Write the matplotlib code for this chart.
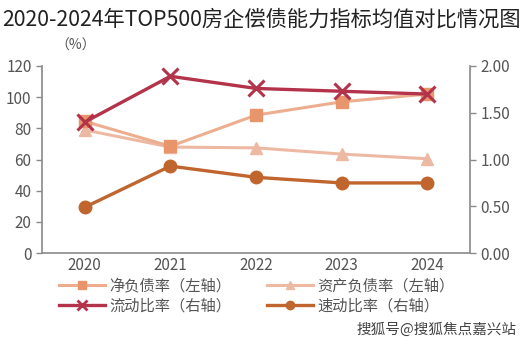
import matplotlib
matplotlib.use("Agg")
import matplotlib.pyplot as plt
from matplotlib.lines import Line2D

plt.rcParams['font.family'] = ['Noto Sans CJK SC', 'DejaVu Sans']

years = [2020, 2021, 2022, 2023, 2024]
net_debt = [84.5, 68.5, 88.5, 97, 102]
asset_liab = [79, 68, 67.5, 63.5, 60.5]
current_ratio = [1.40, 1.89, 1.76, 1.73, 1.70]
quick_ratio = [0.49, 0.93, 0.81, 0.75, 0.75]

c_net = '#E8956B'
c_net_line = '#ECAE8E'
c_asset = '#EDB9A3'
c_cur = '#B3334B'
c_quick = '#C0652D'
grey = '#8a8a8a'
tick_c = '#555555'

fig = plt.figure(figsize=(5.24, 3.54), dpi=100)
ax = fig.add_axes([0.080, 0.285, 0.817, 0.5286])
ax2 = ax.twinx()

l1, = ax.plot(years, net_debt, color=c_net_line, lw=2.2, marker='s', ms=9,
              mfc=c_net, mec=c_net, zorder=3)
l2, = ax.plot(years, asset_liab, color=c_asset, lw=2.2, marker='^', ms=9,
              mfc=c_asset, mec=c_asset, zorder=2)
l3, = ax2.plot(years, current_ratio, color=c_cur, lw=2.4, marker='x', ms=11,
               mew=2.2, zorder=4)
l4, = ax2.plot(years, quick_ratio, color=c_quick, lw=2.4, marker='o', ms=9,
               zorder=3)

ax.set_xlim(2019.5, 2024.5)
ax.set_ylim(0, 120)
ax2.set_ylim(0, 2)
ax.set_yticks(range(0, 121, 20))
ax2.set_yticks([0, 0.5, 1.0, 1.5, 2.0])
ax2.set_yticklabels(['0.00', '0.50', '1.00', '1.50', '2.00'])
ax.set_xticks(years)
ax.set_xticklabels([str(y) for y in years])

for a in (ax, ax2):
    a.spines['top'].set_visible(False)
    for s in ('left', 'right', 'bottom'):
        a.spines[s].set_color(grey)
        a.spines[s].set_linewidth(1.2)
    a.tick_params(axis='y', colors=grey, labelcolor=tick_c, labelsize=11,
                  length=4, width=1)
    a.set_facecolor('none')
ax.tick_params(axis='x', length=0, labelcolor=tick_c, labelsize=11, pad=3)
ax.spines['right'].set_visible(False)
ax2.spines['left'].set_visible(False)
ax2.spines['bottom'].set_visible(False)

fig.text(0.5, 0.945, '2020-2024年TOP500房企偿债能力指标均值对比情况图',
         ha='center', va='center', fontsize=15.3, color='#222222')
fig.text(0.145, 0.872, '（%）', ha='center', va='center', fontsize=10, color=tick_c)

h1 = Line2D([], [], color=c_net_line, lw=2.2, marker='s', ms=6, mfc=c_net, mec=c_net)
h2 = Line2D([], [], color=c_asset, lw=2.2, marker='^', ms=6, mfc=c_asset, mec=c_asset)
h3 = Line2D([], [], color=c_cur, lw=2.4, marker='x', ms=7, mew=2)
h4 = Line2D([], [], color=c_quick, lw=2.4, marker='o', ms=6)
fig.legend([h1, h3, h2, h4],
           ['净负债率（左轴）', '流动比率（右轴）', '资产负债率（左轴）', '速动比率（右轴）'],
           ncol=2, loc='center', bbox_to_anchor=(0.49, 0.163), frameon=False,
           fontsize=11, handlelength=3.0, handletextpad=0.3, columnspacing=2.3,
           labelspacing=0.2, labelcolor=tick_c)

fig.text(0.985, 0.07, '搜狐号@搜狐焦点嘉兴站', ha='right', va='center',
         fontsize=10.5, color='#444444')

fig.savefig('out.png', dpi=100)
